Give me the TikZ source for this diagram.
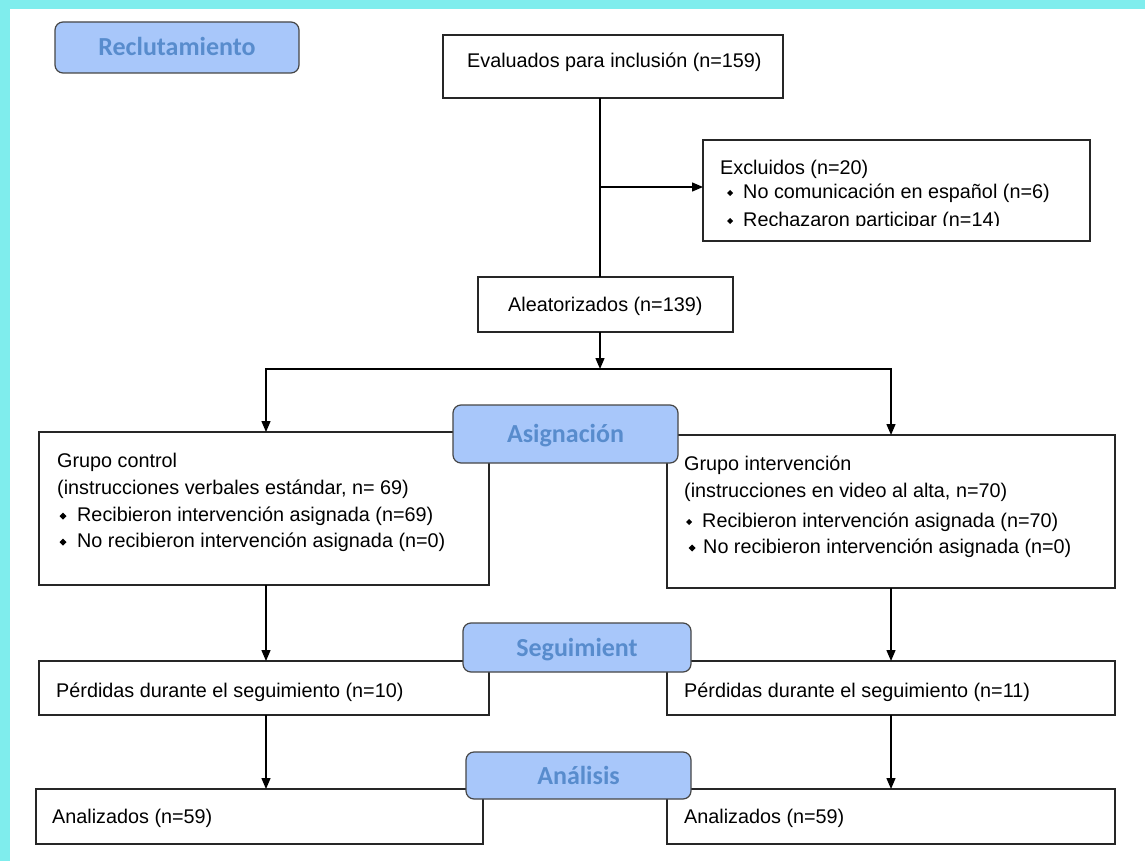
\documentclass[tikz,border=0pt]{standalone}
\usepackage{fontspec}
\setmainfont{Liberation Sans}
\newfontfamily\labelfont{Carlito}
\usetikzlibrary{arrows.meta}
\definecolor{cyanb}{RGB}{127,237,237}
\definecolor{lblfill}{RGB}{168,199,250}
\definecolor{lbltext}{RGB}{88,140,205}
\definecolor{lbldraw}{RGB}{70,70,70}
\newcommand\dmd[3]{\fill (#1,#2) +(0,-#3) -- +(#3,0) -- +(0,#3) -- +(-#3,0) -- cycle;}
\begin{document}
\begin{tikzpicture}[x=1pt,y=-1pt,
  box/.style={draw=black!85, line width=1.3pt, fill=white, inner sep=0pt, outer sep=0pt},
  lbl/.style={draw=lbldraw, line width=1.2pt, fill=lblfill, rounded corners=8pt, inner sep=0pt, outer sep=0pt, text=lbltext, text height=17pt, text depth=0pt, font=\labelfont\bfseries\fontsize{26}{30}\selectfont},
  txt/.style={anchor=base west, inner sep=0pt, font=\fontsize{19.8}{24}\selectfont},
  conn/.style={line width=1.4pt, black},
  arr/.style={conn, -{Triangle[length=11pt,width=9pt]}}]
\fill[white] (0,0) rectangle (1145,861);
\fill[cyanb] (0,0) rectangle (1145,9);
\fill[cyanb] (0,0) rectangle (10,861);
\useasboundingbox (0,0) rectangle (1145,861);
% boxes
\node[box, minimum width=340pt, minimum height=63pt] (eval) at (613,66.5) {};
\node[box, minimum width=387pt, minimum height=101pt] (excl) at (896.5,190.5) {};
\node[box, minimum width=255pt, minimum height=55pt] (alea) at (605.5,304.5) {};
\node[box, minimum width=450pt, minimum height=153pt] (ctrl) at (264,508.5) {};
\node[box, minimum width=448pt, minimum height=153pt] (intv) at (891,511.5) {};
\node[box, minimum width=450pt, minimum height=54pt] (lossL) at (264,688) {};
\node[box, minimum width=448pt, minimum height=54pt] (lossR) at (891,688) {};
\node[box, minimum width=447pt, minimum height=55pt] (anaL) at (259.5,816.5) {};
\node[box, minimum width=448pt, minimum height=55pt] (anaR) at (891,816.5) {};
% connectors
\coordinate (tx) at (600,187);
\coordinate (split) at (600,369);
\coordinate (lx) at (266,369);
\coordinate (rx) at (891,369);
\draw[conn] (eval.south -| tx) -- (alea.north -| tx);
\draw[arr] (tx) -- (tx -| excl.west);
\draw[arr] (alea.south -| split) -- (split);
\draw[arr] (split) -- (lx) -- (ctrl.north -| lx);
\draw[arr] (split) -- (rx) -- (intv.north -| rx);
\draw[arr] (ctrl.south -| lx) -- (lossL.north -| lx);
\draw[arr] (intv.south -| rx) -- (lossR.north -| rx);
\draw[arr] (lossL.south -| lx) -- (anaL.north -| lx);
\draw[arr] (lossR.south -| rx) -- (anaR.north -| rx);
% texts
\node[txt] (tEval) at (467,68) {Evaluados para inclusión (n=159)};
\node[txt] (tExcl) at (720,175) {Excluidos (n=20)};
\node[txt] (tEx1) at (743,198) {No comunicación en español (n=6)};
\begin{scope}
\clip (705,140) rectangle (1088,225.5);
\node[txt] (tEx2) at (743,226) {Rechazaron participar (n=14)};
\end{scope}
\dmd{730}{193}{3}
\dmd{730}{221}{3}
\node[txt] (tAlea) at (508,311) {Aleatorizados (n=139)};
\node[txt] (c1) at (57,467) {Grupo control};
\node[txt] (c2) at (57,494) {(instrucciones verbales estándar, n= 69)};
\node[txt] (c3) at (77,521) {Recibieron intervención asignada (n=69)};
\node[txt] (c4) at (77,547) {No recibieron intervención asignada (n=0)};
\dmd{63}{516}{3.5}
\dmd{63}{542}{3.5}
\node[txt] (i1) at (684,470) {Grupo intervención};
\node[txt] (i2) at (684,497) {(instrucciones en video al alta, n=70)};
\node[txt] (i3) at (702,527) {Recibieron intervención asignada (n=70)};
\node[txt] (i4) at (703,553) {No recibieron intervención asignada (n=0)};
\dmd{689}{522}{3}
\dmd{692}{548}{3.5}
\node[txt] (pL) at (56,697) {Pérdidas durante el seguimiento (n=10)};
\node[txt] (pR) at (684,697) {Pérdidas durante el seguimiento (n=11)};
\node[txt] (aL) at (52,823) {Analizados (n=59)};
\node[txt] (aR) at (684,823) {Analizados (n=59)};
% stage labels
\node[lbl, minimum width=244pt, minimum height=51pt] (recl) at (177,47.5) {Reclutamiento};
\node[lbl, minimum width=225pt, minimum height=58pt] (asig) at (565.5,434) {Asignación};
\node[lbl, minimum width=228pt, minimum height=49pt] (segu) at (577,647.5) {Seguimient};
\node[lbl, minimum width=225pt, minimum height=47pt] (anal) at (578.5,775.5) {Análisis};
\end{tikzpicture}
\end{document}
